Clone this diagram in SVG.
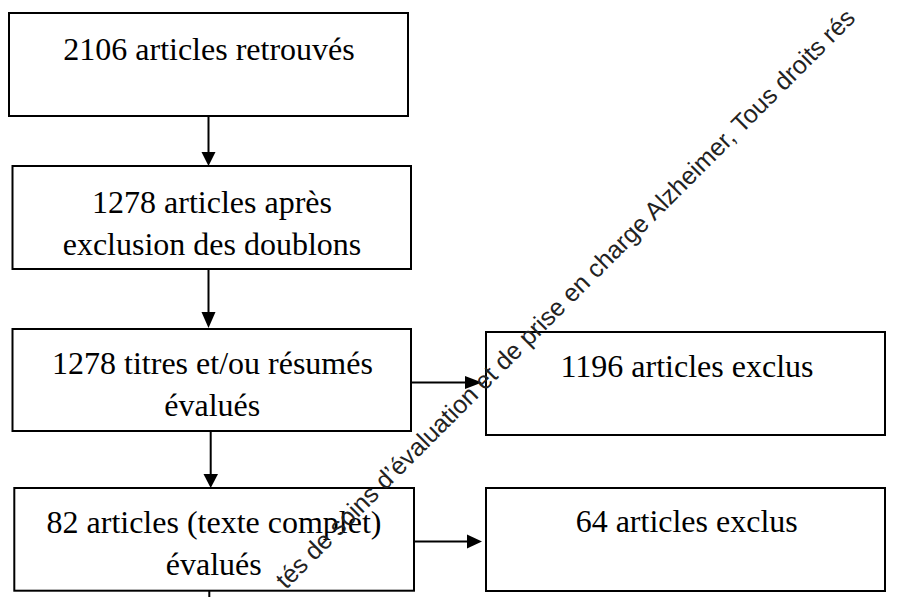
<svg xmlns="http://www.w3.org/2000/svg" width="897" height="597" viewBox="0 0 897 597">
  <style>
    .box { fill: #ffffff; stroke: #000000; stroke-width: 2; }
    .lbl { font-family: 'Liberation Serif', 'Times New Roman', Times, 'DejaVu Serif', serif; font-size: 32px; fill: #000000; text-anchor: middle; }
    .edge { stroke: #000000; stroke-width: 2; fill: none; }
    .head { fill: #000000; stroke: none; }
    .wm { font-family: 'Liberation Sans', Arial, sans-serif; font-size: 25px; fill: #222222; }
  </style>
  <rect x="0" y="0" width="897" height="597" fill="#ffffff"/>

  <g id="connectors">
    <line class="edge" x1="208.5" y1="117" x2="208.5" y2="153"/>
    <polygon class="head" points="201.5,152 215.5,152 208.5,166"/>
    <line class="edge" x1="208.5" y1="270" x2="208.5" y2="313"/>
    <polygon class="head" points="201.5,312 215.5,312 208.5,328"/>
    <line class="edge" x1="210.7" y1="432" x2="210.7" y2="475"/>
    <polygon class="head" points="203.5,474 218,474 210.7,488"/>
    <line class="edge" x1="209.3" y1="591" x2="209.3" y2="597"/>
    <line class="edge" x1="411" y1="382.5" x2="466" y2="382.5"/>
    <polygon class="head" points="465,376 465,389 482,382.5"/>
    <line class="edge" x1="414" y1="541.5" x2="468" y2="541.5"/>
    <polygon class="head" points="467,534.5 467,548.5 482,541.5"/>
  </g>

  <g id="n1">
    <rect class="box" x="9" y="13" width="399" height="103"/>
    <text class="lbl" x="209" y="59.5" font-family="Liberation Serif, serif">2106 articles retrouvés</text>
  </g>
  <g id="n2">
    <rect class="box" x="12.5" y="166" width="398.5" height="103"/>
    <text class="lbl" x="212" y="212.5" font-family="Liberation Serif, serif">1278 articles après</text>
    <text class="lbl" x="212" y="255" font-family="Liberation Serif, serif">exclusion des doublons</text>
  </g>
  <g id="n3">
    <rect class="box" x="12.5" y="329" width="398.5" height="102"/>
    <text class="lbl" x="212.5" y="374" font-family="Liberation Serif, serif">1278 titres et/ou résumés</text>
    <text class="lbl" x="212.3" y="416" font-family="Liberation Serif, serif">évalués</text>
  </g>
  <g id="n4">
    <rect class="box" x="14.3" y="488" width="399.7" height="102.7"/>
    <text class="lbl" x="214" y="532.7" font-family="Liberation Serif, serif">82 articles (texte complet)</text>
    <text class="lbl" x="213.7" y="575.3" font-family="Liberation Serif, serif">évalués</text>
  </g>
  <g id="n5">
    <rect class="box" x="486" y="332" width="399" height="103"/>
    <text class="lbl" x="687" y="377" font-family="Liberation Serif, serif">1196 articles exclus</text>
  </g>
  <g id="n6">
    <rect class="box" x="486" y="488" width="399" height="103"/>
    <text class="lbl" x="686.7" y="532" font-family="Liberation Serif, serif">64 articles exclus</text>
  </g>

  <text class="wm" transform="translate(286,590) rotate(-45)">tés de soins d’évaluation et de prise en charge Alzheimer, Tous droits rés</text>
</svg>
